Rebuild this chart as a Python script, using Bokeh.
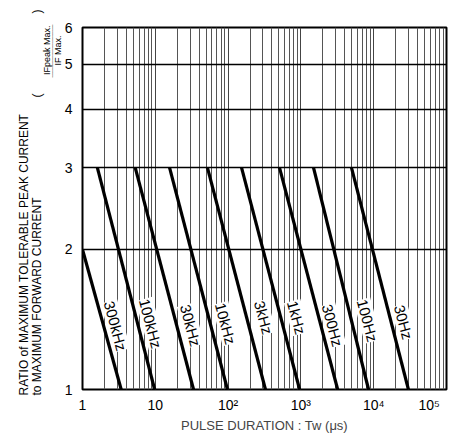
from bokeh.plotting import figure
from bokeh.models import Range1d, FixedTicker, Title, ColumnDataSource, BasicTickFormatter
from bokeh.core.properties import value
from bokeh.embed import file_html
from bokeh.resources import INLINE

# Derating lines: pulse width at the upper end and at ratio 1
freq_labels = ["300kHz", "100kHz", "30kHz", "10kHz", "3kHz", "1kHz", "300Hz", "100Hz", "30Hz"]
tw_start = [1.0, 1.6, 5.3, 15.7, 52, 153, 508, 1490, 4950]
ratio_start = [2.0, 3, 3, 3, 3, 3, 3, 3, 3]
tw_end = [3.4, 9.8, 33.5, 98, 326, 960, 3200, 8500, 30000]
ratio_end = [1, 1, 1, 1, 1, 1, 1, 1, 1]

# Where each frequency label sits
label_tw = [2.84, 8.6, 30.5, 92, 306, 871, 2717, 8220, 25650]
label_ratio = [1.37, 1.386, 1.373, 1.386, 1.428, 1.428, 1.373, 1.407, 1.395]

NBSP = "\u00a0"
x_ticks = [1, 10, 100, 1000, 10000, 100000]
x_tick_labels = ["1", "10", "10²", "10³", "10⁴", "10⁵" + NBSP * 3]
y_ticks = [1, 2, 3, 4, 5, 6]
y_grid_values = [2, 3, 4, 5]

FONT = "Liberation Sans"

p = figure(frame_width=364, frame_height=362,
           x_axis_type="log", y_axis_type="log",
           x_range=Range1d(1, 1e5), y_range=Range1d(1, 6),
           output_backend="svg", toolbar_location=None,
           min_border_left=82, min_border_right=5,
           min_border_top=27, min_border_bottom=50,
           background_fill_color="white", border_fill_color="white")

p.outline_line_color = "black"
p.outline_line_width = 2

# grid: decades + 2..9 subdivisions on x, integer ratios on y
minor = [m * d for d in x_ticks[:-1] for m in range(2, 10)]
p.xgrid.ticker = FixedTicker(ticks=x_ticks, minor_ticks=minor)
p.xgrid.grid_line_color = "#444444"
p.xgrid.grid_line_width = 1
p.xgrid.minor_grid_line_color = "#555555"
p.xgrid.minor_grid_line_width = 1
p.ygrid.ticker = FixedTicker(ticks=y_grid_values)
p.ygrid.grid_line_color = "black"
p.ygrid.grid_line_width = 1.5

for ax in (p.xaxis, p.yaxis):
    ax.axis_line_color = None
    ax.major_tick_line_color = None
    ax.minor_tick_line_color = None
    ax.major_label_text_font = FONT
    ax.major_label_text_font_size = "14px"
    ax.major_label_text_color = "black"

p.xaxis.ticker = FixedTicker(ticks=x_ticks)
p.xaxis.formatter = BasicTickFormatter()
p.xaxis.major_label_overrides = dict(zip(x_ticks, x_tick_labels))
p.xaxis.major_label_standoff = 1
p.xaxis.axis_label = "PULSE DURATION : Tw (μs)"
p.xaxis.axis_label_text_font = FONT
p.xaxis.axis_label_text_font_style = "normal"
p.xaxis.axis_label_text_font_size = "13px"
p.xaxis.axis_label_standoff = 2

p.yaxis.ticker = FixedTicker(ticks=y_ticks)
p.yaxis.formatter = BasicTickFormatter()
p.yaxis.major_label_overrides = {v: str(v) for v in y_ticks}
p.yaxis.major_label_standoff = 4

src = ColumnDataSource(dict(x0=tw_start, y0=ratio_start, x1=tw_end, y1=ratio_end))
p.segment(x0="x0", y0="y0", x1="x1", y1="y1", source=src,
          line_color="black", line_width=3.2)

lab = ColumnDataSource(dict(x=label_tw, y=label_ratio, t=freq_labels))
p.text(x="x", y="y", text="t", source=lab, angle=-75, angle_units="deg",
       text_align="center", text_baseline="middle",
       text_font=value(FONT), text_font_size="15px", text_color="black",
       background_fill_color="white")


def side_title(text, size, align, offset, font=FONT, standoff=0):
    t = Title(text=text, align=align, offset=offset, standoff=standoff,
              text_font=font, text_font_size=size, text_font_style="normal",
              text_color="black")
    p.add_layout(t, "left")


# stacked outward from the y axis: fraction, then the two title lines
side_title("IF Max.", "9px", "right", 8, standoff=-3)
side_title("─" * 22, "4px", "right", -3, font="DejaVu Sans", standoff=-5)
side_title("IFpeak Max.", "9px", "right", -2, standoff=-3)
side_title("to MAXIMUM FORWARD CURRENT" + NBSP * 30 + "(" + NBSP * 24 + ")",
           "12px", "left", -6, standoff=-5)
side_title("RATIO of MAXIMUM TOLERABLE PEAK CURRENT", "12px", "left", -6)

open("out.html", "w").write(file_html(p, INLINE))
